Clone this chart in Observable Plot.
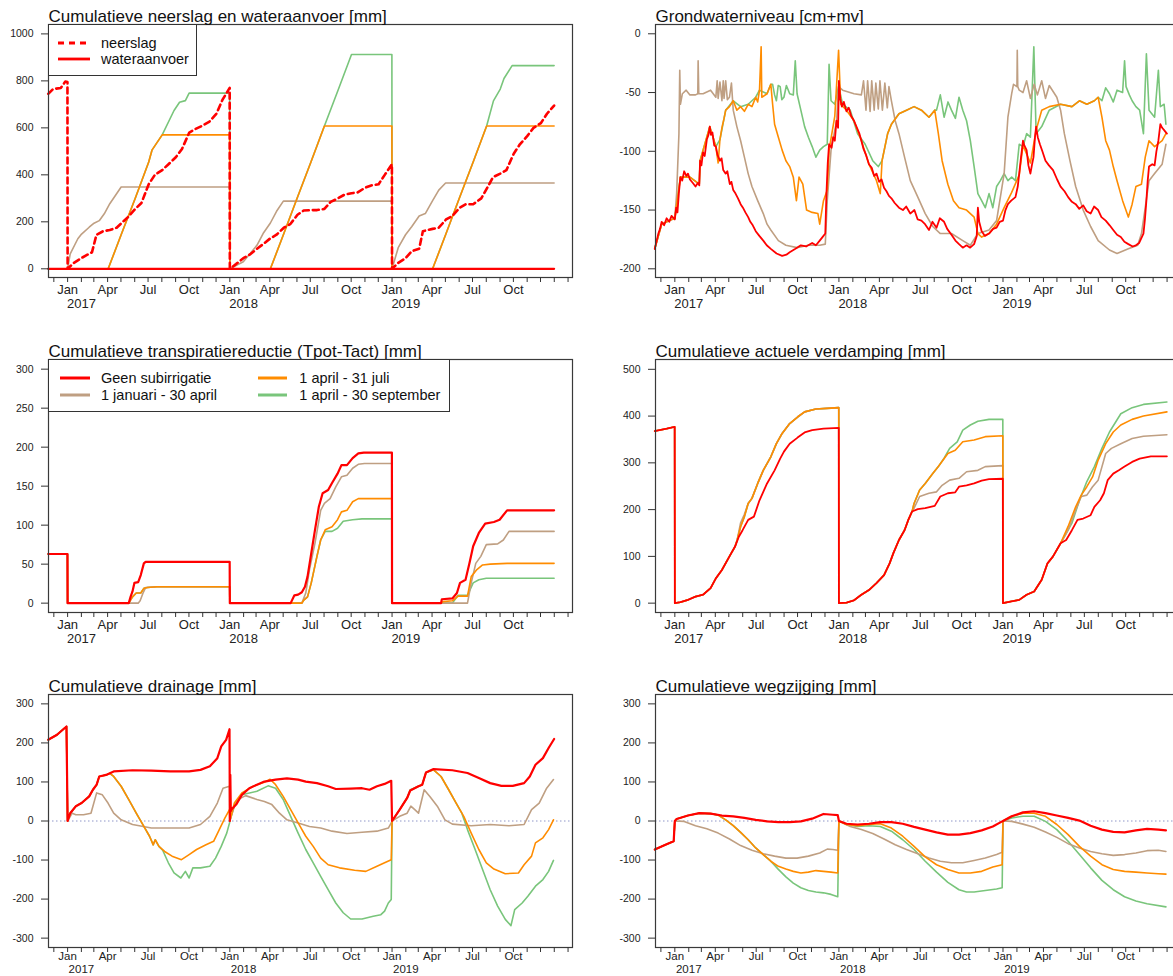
<!DOCTYPE html>
<html><head><meta charset="utf-8">
<script src="https://cdn.jsdelivr.net/npm/d3@7"></script>
<script src="https://cdn.jsdelivr.net/npm/@observablehq/plot@0.6"></script>
<style>
html,body{margin:0;padding:0;background:#fff;overflow:hidden}
#wrap{position:relative;width:1173px;height:976px;overflow:hidden;background:#fff;font-family:"Liberation Sans",Arial,sans-serif}
.panel{position:absolute}
.legend{position:absolute;box-sizing:border-box;border:1px solid #333;background:#fff}
.ltext{position:absolute;font-size:14.5px;color:#111;line-height:16px;white-space:nowrap;transform:translateY(-50%)}
.lsample{position:absolute;overflow:visible}
</style></head><body><div id="wrap"></div>
<script>
// ---------- tick labels ----------
const quarterLabels = ["Jan", "Apr", "Jul", "Oct"];
const yearLabels = ["2017", "2018", "2019"];
const legend1Labels = ["neerslag", "wateraanvoer"];
const legend3Labels = ["Geen subirrigatie", "1 januari - 30 april", "1 april - 31 juli", "1 april - 30 september"];
const titles = [
  "Cumulatieve neerslag en wateraanvoer [mm]",
  "Grondwaterniveau [cm+mv]",
  "Cumulatieve transpiratiereductie (Tpot-Tact) [mm]",
  "Cumulatieve actuele verdamping [mm]",
  "Cumulatieve drainage [mm]",
  "Cumulatieve wegzijging [mm]"
];
const yTicks1 = [0, 200, 400, 600, 800, 1000];
const yTicks2 = [0, -50, -100, -150, -200];
const yTicks3 = [0, 50, 100, 150, 200, 250, 300];
const yTicks4 = [0, 100, 200, 300, 400, 500];
const yTicks56 = [-300, -200, -100, 0, 100, 200, 300];

// ---------- data: [decimal year, value] ----------
// Panel 1: neerslag (precipitation, cumulative)
const neerslag = [[2016.881,745],[2016.91,765],[2016.958,770],[2016.986,797],[2016.999,795],
 [2017,0],[2017.038,25],[2017.083,45],[2017.122,60],[2017.15,70],[2017.178,145],[2017.219,160],[2017.26,165],[2017.302,175],[2017.333,195],[2017.372,220],[2017.417,255],[2017.455,280],[2017.5,360],[2017.538,400],[2017.583,420],[2017.622,445],[2017.667,475],[2017.705,510],[2017.75,580],[2017.788,595],[2017.833,610],[2017.872,625],[2017.917,660],[2017.955,720],[2017.999,770],
 [2018,0],[2018.038,20],[2018.083,45],[2018.122,60],[2018.167,85],[2018.205,105],[2018.25,130],[2018.288,145],[2018.333,175],[2018.372,190],[2018.417,230],[2018.455,248],[2018.5,250],[2018.538,250],[2018.583,255],[2018.622,285],[2018.667,300],[2018.705,315],[2018.75,322],[2018.788,325],[2018.833,345],[2018.872,355],[2018.917,360],[2018.955,400],[2018.999,445],
 [2019,0],[2019.038,25],[2019.083,45],[2019.122,75],[2019.167,85],[2019.19,160],[2019.25,170],[2019.288,175],[2019.333,210],[2019.372,225],[2019.417,260],[2019.455,275],[2019.5,275],[2019.55,300],[2019.595,355],[2019.622,390],[2019.667,405],[2019.705,420],[2019.75,490],[2019.788,530],[2019.833,565],[2019.872,600],[2019.917,620],[2019.955,660],[2019.999,695]];
const aanvoerRood = [[2016.881,0],[2019.999,0]];
const aanvoerTan = [[2016.881,0],[2017,0],[2017.016,64],[2017.063,128],[2017.086,148],[2017.133,177],[2017.163,194],[2017.195,205],[2017.226,234],[2017.26,277],[2017.33,348],[2017.999,348],
 [2018,0],[2018.083,30],[2018.167,100],[2018.205,150],[2018.25,195],[2018.288,245],[2018.33,288],[2018.999,288],
 [2019,0],[2019.038,90],[2019.083,145],[2019.122,180],[2019.167,225],[2019.205,235],[2019.25,290],[2019.288,335],[2019.33,365],[2019.999,365]];
const aanvoerOranje = [[2016.881,0],[2017.25,0],[2017.333,150],[2017.417,300],[2017.5,455],[2017.52,505],[2017.583,570],[2017.999,570],
 [2018,0],[2018.25,0],[2018.333,150],[2018.417,305],[2018.5,455],[2018.583,608],[2018.999,608],
 [2019,0],[2019.25,0],[2019.333,150],[2019.417,305],[2019.5,455],[2019.583,608],[2019.999,608]];
const aanvoerGroen = [[2016.881,0],[2017.25,0],[2017.333,150],[2017.417,300],[2017.5,455],[2017.52,505],[2017.583,570],[2017.656,674],[2017.69,709],[2017.726,716],[2017.749,748],[2017.999,748],
 [2018,0],[2018.25,0],[2018.333,150],[2018.417,305],[2018.5,455],[2018.583,608],[2018.667,760],[2018.75,912],[2018.999,912],
 [2019,0],[2019.25,0],[2019.333,150],[2019.417,305],[2019.5,455],[2019.583,608],[2019.625,715],[2019.667,765],[2019.69,810],[2019.74,865],[2019.999,865]];

// Panel 2: grondwaterniveau
const gwRood = [[2016.878,-183],[2016.89,-176],[2016.90,-170],[2016.91,-166],[2016.92,-160],[2016.935,-163],[2016.95,-157],[2016.966,-160],[2016.98,-155],[2017.0,-158],[2017.008,-148],[2017.016,-152],[2017.025,-135],[2017.034,-122],[2017.045,-125],[2017.057,-117],[2017.07,-121],[2017.08,-119],[2017.092,-124],[2017.11,-127],[2017.126,-130],[2017.14,-127],[2017.149,-129],[2017.154,-108],[2017.162,-112],[2017.172,-101],[2017.182,-104],[2017.195,-90],[2017.205,-86],[2017.213,-79],[2017.22,-86],[2017.229,-84],[2017.24,-95],[2017.25,-96],[2017.26,-103],[2017.275,-108],[2017.285,-106],[2017.295,-116],[2017.310,-119],[2017.32,-117],[2017.335,-128],[2017.345,-126],[2017.356,-133],[2017.37,-136],[2017.385,-140],[2017.401,-145],[2017.415,-148],[2017.43,-152],[2017.447,-156],[2017.46,-160],[2017.475,-163],[2017.493,-168],[2017.515,-172],[2017.539,-176],[2017.56,-180],[2017.585,-183],[2017.62,-187],[2017.654,-189],[2017.68,-188],[2017.700,-186],[2017.735,-183],[2017.768,-180],[2017.80,-181],[2017.837,-178],[2017.86,-180],[2017.883,-176],[2017.90,-173],[2017.917,-170],[2017.924,-136],[2017.932,-110],[2017.940,-94],[2017.955,-97],[2017.965,-88],[2017.975,-91],[2017.985,-74],[2017.995,-80],[2018.0,-40],[2018.008,-55],[2018.018,-62],[2018.03,-58],[2018.046,-66],[2018.06,-63],[2018.075,-70],[2018.092,-74],[2018.11,-80],[2018.125,-85],[2018.137,-91],[2018.15,-98],[2018.165,-103],[2018.183,-111],[2018.2,-114],[2018.215,-121],[2018.229,-119],[2018.245,-126],[2018.26,-124],[2018.275,-131],[2018.29,-134],[2018.305,-138],[2018.320,-140],[2018.34,-144],[2018.366,-148],[2018.39,-150],[2018.41,-147],[2018.435,-153],[2018.46,-150],[2018.48,-158],[2018.503,-159],[2018.525,-162],[2018.549,-167],[2018.57,-160],[2018.595,-165],[2018.615,-157],[2018.641,-160],[2018.66,-166],[2018.686,-171],[2018.71,-176],[2018.732,-179],[2018.755,-182],[2018.778,-180],[2018.80,-182],[2018.824,-179],[2018.84,-172],[2018.847,-148],[2018.855,-160],[2018.870,-168],[2018.89,-172],[2018.915,-170],[2018.94,-166],[2018.961,-165],[2018.98,-160],[2019.0,-159],[2019.015,-150],[2019.030,-145],[2019.05,-142],[2019.076,-139],[2019.09,-130],[2019.099,-119],[2019.11,-105],[2019.122,-91],[2019.13,-95],[2019.144,-99],[2019.155,-112],[2019.167,-119],[2019.176,-112],[2019.186,-105],[2019.195,-88],[2019.202,-79],[2019.212,-88],[2019.225,-94],[2019.24,-100],[2019.259,-108],[2019.28,-112],[2019.305,-116],[2019.33,-124],[2019.351,-130],[2019.375,-134],[2019.397,-139],[2019.42,-143],[2019.443,-145],[2019.465,-149],[2019.489,-146],[2019.51,-151],[2019.534,-153],[2019.555,-147],[2019.580,-150],[2019.60,-156],[2019.626,-159],[2019.65,-163],[2019.672,-167],[2019.695,-171],[2019.718,-173],[2019.74,-177],[2019.764,-179],[2019.79,-181],[2019.810,-180],[2019.83,-178],[2019.856,-170],[2019.865,-158],[2019.874,-142],[2019.882,-125],[2019.890,-113],[2019.91,-111],[2019.924,-112],[2019.935,-100],[2019.947,-91],[2019.959,-77],[2019.97,-80],[2019.982,-82],[2019.999,-85]];
const gwTan = [[2016.878,-183],[2016.92,-162],[2016.966,-159],[2017.0,-157],[2017.011,-136],[2017.025,-85],[2017.030,-31],[2017.034,-60],[2017.046,-51],[2017.069,-48],[2017.092,-52],[2017.126,-52],[2017.14,-51],[2017.142,-23],[2017.146,-51],[2017.172,-51],[2017.218,-48],[2017.25,-54],[2017.258,-40],[2017.264,-55],[2017.275,-41],[2017.287,-57],[2017.295,-40],[2017.30,-55],[2017.31,-40],[2017.32,-56],[2017.333,-54],[2017.345,-42],[2017.356,-65],[2017.378,-79],[2017.401,-91],[2017.424,-105],[2017.447,-119],[2017.470,-130],[2017.505,-142],[2017.539,-153],[2017.562,-162],[2017.585,-167],[2017.631,-176],[2017.677,-180],[2017.745,-182],[2017.814,-180],[2017.883,-180],[2017.917,-179],[2017.929,-142],[2017.952,-99],[2017.986,-74],[2017.998,-45],[2018.023,-48],[2018.092,-51],[2018.137,-52],[2018.150,-40],[2018.165,-65],[2018.175,-40],[2018.19,-66],[2018.2,-40],[2018.215,-65],[2018.225,-42],[2018.24,-64],[2018.25,-40],[2018.265,-65],[2018.28,-42],[2018.295,-63],[2018.305,-45],[2018.32,-57],[2018.343,-74],[2018.366,-85],[2018.400,-105],[2018.435,-125],[2018.481,-139],[2018.526,-153],[2018.572,-164],[2018.618,-170],[2018.686,-170],[2018.755,-176],[2018.801,-180],[2018.847,-170],[2018.915,-167],[2018.961,-159],[2019.007,-119],[2019.030,-71],[2019.053,-51],[2019.064,-43],[2019.085,-45],[2019.087,-14],[2019.090,-45],[2019.099,-48],[2019.122,-50],[2019.144,-40],[2019.167,-55],[2019.19,-43],[2019.21,-52],[2019.236,-40],[2019.259,-55],[2019.282,-44],[2019.328,-54],[2019.351,-65],[2019.374,-85],[2019.408,-108],[2019.443,-130],[2019.489,-150],[2019.534,-164],[2019.580,-176],[2019.649,-184],[2019.695,-187],[2019.764,-183],[2019.821,-180],[2019.844,-170],[2019.867,-148],[2019.890,-125],[2019.924,-119],[2019.970,-111],[2019.993,-94]];
const gwOranje = [[2016.878,-183],[2016.92,-162],[2016.966,-159],[2017.0,-157],[2017.034,-122],[2017.092,-122],[2017.149,-128],[2017.154,-108],[2017.213,-79],[2017.25,-96],[2017.264,-110],[2017.275,-90],[2017.287,-80],[2017.30,-72],[2017.31,-65],[2017.333,-62],[2017.356,-57],[2017.378,-65],[2017.401,-62],[2017.424,-66],[2017.447,-60],[2017.47,-62],[2017.493,-54],[2017.505,-58],[2017.516,-48],[2017.526,-11],[2017.530,-54],[2017.562,-51],[2017.585,-43],[2017.596,-60],[2017.608,-77],[2017.631,-88],[2017.654,-99],[2017.677,-108],[2017.700,-113],[2017.722,-122],[2017.741,-142],[2017.757,-122],[2017.780,-128],[2017.803,-150],[2017.837,-152],[2017.872,-153],[2017.883,-162],[2017.906,-142],[2017.929,-133],[2017.940,-99],[2017.975,-70],[2017.998,-14],[2018.011,-60],[2018.046,-65],[2018.092,-74],[2018.137,-91],[2018.183,-111],[2018.229,-125],[2018.252,-136],[2018.263,-108],[2018.297,-85],[2018.320,-77],[2018.366,-68],[2018.412,-65],[2018.458,-62],[2018.503,-65],[2018.549,-71],[2018.584,-65],[2018.606,-85],[2018.629,-108],[2018.664,-128],[2018.698,-142],[2018.732,-148],[2018.778,-150],[2018.824,-156],[2018.847,-170],[2018.870,-173],[2018.915,-170],[2018.961,-162],[2019.007,-148],[2019.053,-135],[2019.099,-120],[2019.122,-95],[2019.167,-110],[2019.202,-82],[2019.236,-65],[2019.282,-62],[2019.351,-60],[2019.420,-62],[2019.466,-57],[2019.511,-60],[2019.557,-57],[2019.580,-54],[2019.603,-71],[2019.626,-91],[2019.649,-99],[2019.672,-113],[2019.695,-125],[2019.729,-142],[2019.764,-156],[2019.787,-145],[2019.810,-130],[2019.844,-128],[2019.867,-105],[2019.890,-91],[2019.924,-96],[2019.970,-91],[2019.993,-85]];
const gwGroen = [[2016.878,-183],[2016.92,-162],[2016.966,-159],[2017.0,-157],[2017.034,-122],[2017.092,-122],[2017.149,-128],[2017.154,-108],[2017.213,-79],[2017.25,-96],[2017.275,-90],[2017.31,-65],[2017.356,-57],[2017.401,-62],[2017.447,-60],[2017.493,-54],[2017.516,-48],[2017.562,-51],[2017.585,-43],[2017.596,-43],[2017.608,-52],[2017.619,-57],[2017.63,-44],[2017.642,-45],[2017.652,-56],[2017.665,-54],[2017.68,-44],[2017.700,-51],[2017.722,-52],[2017.734,-23],[2017.745,-51],[2017.768,-65],[2017.791,-79],[2017.814,-88],[2017.837,-96],[2017.860,-105],[2017.883,-99],[2017.906,-96],[2017.929,-94],[2017.940,-26],[2017.952,-57],[2017.975,-60],[2017.998,-45],[2018.023,-60],[2018.069,-65],[2018.114,-85],[2018.160,-94],[2018.206,-108],[2018.240,-113],[2018.263,-108],[2018.297,-85],[2018.320,-77],[2018.366,-68],[2018.412,-65],[2018.458,-62],[2018.503,-65],[2018.549,-71],[2018.584,-65],[2018.595,-65],[2018.618,-52],[2018.641,-71],[2018.665,-58],[2018.686,-65],[2018.71,-72],[2018.732,-54],[2018.755,-65],[2018.778,-74],[2018.801,-91],[2018.824,-113],[2018.847,-136],[2018.870,-142],[2018.892,-148],[2018.915,-136],[2018.938,-148],[2018.961,-130],[2018.984,-125],[2019.007,-119],[2019.030,-125],[2019.053,-122],[2019.076,-125],[2019.099,-94],[2019.122,-96],[2019.144,-85],[2019.167,-88],[2019.188,-11],[2019.202,-85],[2019.236,-79],[2019.282,-65],[2019.351,-60],[2019.420,-62],[2019.466,-57],[2019.511,-60],[2019.557,-57],[2019.580,-54],[2019.603,-57],[2019.626,-46],[2019.649,-51],[2019.672,-58],[2019.695,-48],[2019.729,-50],[2019.741,-23],[2019.750,-45],[2019.770,-52],[2019.787,-57],[2019.81,-62],[2019.833,-65],[2019.856,-85],[2019.874,-17],[2019.890,-65],[2019.924,-71],[2019.947,-31],[2019.959,-62],[2019.982,-60],[2019.993,-77]];

// Panel 3: transpiratiereductie
const trRood = [[2016.881,63],[2016.999,63],[2017,0],[2017.377,0],[2017.388,8],[2017.40,15],[2017.412,26],[2017.435,27],[2017.451,36],[2017.47,51],[2017.481,53],[2017.999,53],
 [2018,0],[2018.375,0],[2018.398,10],[2018.421,11],[2018.444,14],[2018.463,21],[2018.479,34],[2018.502,64],[2018.525,94],[2018.549,124],[2018.572,141],[2018.606,145],[2018.63,154],[2018.664,166],[2018.688,177],[2018.722,177],[2018.757,186],[2018.792,192],[2018.826,193],[2018.999,193],
 [2019,0],[2019.302,0],[2019.307,5],[2019.372,6],[2019.40,13],[2019.419,26],[2019.453,30],[2019.477,51],[2019.5,73],[2019.535,90],[2019.574,102],[2019.628,104],[2019.663,107],[2019.709,119],[2019.999,119]];
const trTan = [[2016.881,63],[2016.999,63],[2017,0],[2017.435,0],[2017.447,3],[2017.465,13],[2017.481,20],[2017.55,21],[2017.999,21],
 [2018,0],[2018.444,0],[2018.468,13],[2018.491,43],[2018.525,77],[2018.56,119],[2018.583,128],[2018.618,134],[2018.653,149],[2018.688,162],[2018.722,164],[2018.757,173],[2018.792,178],[2018.83,179],[2018.999,179],
 [2019,0],[2019.465,0],[2019.488,26],[2019.516,51],[2019.547,60],[2019.581,75],[2019.651,76],[2019.686,81],[2019.721,92],[2019.999,92]];
const trOranje = [[2016.881,63],[2016.999,63],[2017,0],[2017.377,0],[2017.40,8],[2017.423,13],[2017.451,13],[2017.47,19],[2017.493,20],[2017.55,21],[2017.999,21],
 [2018,0],[2018.444,0],[2018.456,4],[2018.479,8],[2018.502,26],[2018.537,60],[2018.56,81],[2018.588,94],[2018.63,98],[2018.664,107],[2018.688,117],[2018.722,119],[2018.757,130],[2018.792,134],[2018.999,134],
 [2019,0],[2019.302,0],[2019.314,2],[2019.372,3],[2019.407,9],[2019.465,9],[2019.488,34],[2019.523,43],[2019.558,49],[2019.605,50],[2019.709,51],[2019.999,51]];
const trGroen = [[2016.881,63],[2016.999,63],[2017,0],[2017.377,0],[2017.40,8],[2017.423,13],[2017.451,13],[2017.47,19],[2017.493,20],[2017.55,21],[2017.999,21],
 [2018,0],[2018.444,0],[2018.456,4],[2018.479,8],[2018.502,26],[2018.537,60],[2018.56,81],[2018.588,92],[2018.63,92],[2018.664,96],[2018.699,105],[2018.757,107],[2018.815,108],[2018.999,108],
 [2019,0],[2019.372,0],[2019.407,10],[2019.465,10],[2019.50,26],[2019.535,30],[2019.581,32],[2019.999,32]];

// Panel 4: actuele verdamping
const evRood = [[2016.878,368],[2016.95,373],[2016.999,377],[2017,0],[2017.034,2],[2017.080,7],[2017.126,14],[2017.172,18],[2017.218,32],[2017.25,53],[2017.287,71],[2017.333,100],[2017.367,121],[2017.390,142],[2017.413,156],[2017.447,178],[2017.482,185],[2017.516,220],[2017.562,256],[2017.608,284],[2017.642,309],[2017.665,324],[2017.700,341],[2017.748,354],[2017.791,365],[2017.837,370],[2017.906,373],[2017.999,375],
 [2018,0],[2018.046,1],[2018.092,6],[2018.137,18],[2018.183,28],[2018.229,43],[2018.275,60],[2018.309,85],[2018.332,107],[2018.366,135],[2018.400,156],[2018.423,178],[2018.446,196],[2018.481,201],[2018.526,203],[2018.584,208],[2018.618,228],[2018.664,235],[2018.709,237],[2018.732,249],[2018.778,252],[2018.824,256],[2018.870,262],[2018.915,265],[2018.999,266],
 [2019,0],[2019.053,4],[2019.099,7],[2019.144,18],[2019.190,25],[2019.236,50],[2019.271,85],[2019.305,100],[2019.351,128],[2019.385,135],[2019.420,156],[2019.454,178],[2019.489,181],[2019.534,188],[2019.557,206],[2019.592,220],[2019.615,235],[2019.638,263],[2019.672,277],[2019.706,284],[2019.741,292],[2019.787,302],[2019.833,309],[2019.901,314],[2019.999,314]];
const evOranje = [[2016.878,368],[2016.95,373],[2016.999,377],[2017,0],[2017.034,2],[2017.080,7],[2017.126,14],[2017.172,18],[2017.218,32],[2017.25,53],[2017.287,71],[2017.333,100],[2017.367,121],[2017.38,135],[2017.401,164],[2017.424,185],[2017.447,213],[2017.470,224],[2017.505,256],[2017.539,284],[2017.585,313],[2017.619,341],[2017.654,363],[2017.700,384],[2017.748,398],[2017.791,409],[2017.860,415],[2017.952,417],[2017.999,418],
 [2018,0],[2018.046,1],[2018.092,6],[2018.137,18],[2018.183,28],[2018.229,43],[2018.275,60],[2018.309,85],[2018.332,107],[2018.366,135],[2018.400,156],[2018.423,178],[2018.446,196],[2018.458,213],[2018.492,242],[2018.526,256],[2018.572,277],[2018.606,292],[2018.664,320],[2018.709,327],[2018.755,345],[2018.824,349],[2018.892,356],[2018.999,358],
 [2019,0],[2019.053,4],[2019.099,7],[2019.144,18],[2019.190,25],[2019.236,50],[2019.271,85],[2019.305,100],[2019.351,128],[2019.397,164],[2019.443,206],[2019.477,231],[2019.511,249],[2019.546,270],[2019.580,306],[2019.626,341],[2019.672,366],[2019.718,381],[2019.787,393],[2019.856,400],[2019.999,409]];
const evTan = [[2016.878,368],[2016.95,373],[2016.999,377],[2017,0],[2017.034,2],[2017.080,7],[2017.126,14],[2017.172,18],[2017.218,32],[2017.25,53],[2017.287,71],[2017.333,100],[2017.367,121],[2017.38,135],[2017.401,172],[2017.424,190],[2017.447,213],[2017.470,224],[2017.505,256],[2017.539,284],[2017.585,313],[2017.619,341],[2017.654,363],[2017.700,384],[2017.748,398],[2017.791,409],[2017.860,415],[2017.952,417],[2017.999,418],
 [2018,0],[2018.046,1],[2018.092,6],[2018.137,18],[2018.183,28],[2018.229,43],[2018.275,60],[2018.309,85],[2018.332,107],[2018.366,135],[2018.400,156],[2018.423,178],[2018.446,196],[2018.458,203],[2018.492,228],[2018.549,235],[2018.595,238],[2018.629,252],[2018.675,263],[2018.732,267],[2018.778,281],[2018.847,284],[2018.892,292],[2018.999,294],
 [2019,0],[2019.053,4],[2019.099,7],[2019.144,18],[2019.190,25],[2019.236,50],[2019.271,85],[2019.305,100],[2019.351,128],[2019.397,156],[2019.443,199],[2019.477,228],[2019.511,231],[2019.546,249],[2019.580,263],[2019.626,320],[2019.661,331],[2019.718,341],[2019.787,352],[2019.856,357],[2019.999,360]];
const evGroen = [[2016.878,368],[2016.95,373],[2016.999,377],[2017,0],[2017.034,2],[2017.080,7],[2017.126,14],[2017.172,18],[2017.218,32],[2017.25,53],[2017.287,71],[2017.333,100],[2017.367,121],[2017.38,135],[2017.401,164],[2017.424,185],[2017.447,213],[2017.470,224],[2017.505,256],[2017.539,284],[2017.585,313],[2017.619,341],[2017.654,363],[2017.700,384],[2017.748,398],[2017.791,409],[2017.860,415],[2017.952,417],[2017.999,418],
 [2018,0],[2018.046,1],[2018.092,6],[2018.137,18],[2018.183,28],[2018.229,43],[2018.275,60],[2018.309,85],[2018.332,107],[2018.366,135],[2018.400,156],[2018.423,178],[2018.446,196],[2018.458,213],[2018.492,242],[2018.526,256],[2018.572,277],[2018.606,292],[2018.641,310],[2018.675,331],[2018.721,345],[2018.755,370],[2018.801,381],[2018.847,389],[2018.915,393],[2018.999,393],
 [2019,0],[2019.053,4],[2019.099,7],[2019.144,18],[2019.190,25],[2019.236,50],[2019.271,85],[2019.305,100],[2019.351,128],[2019.420,171],[2019.466,220],[2019.511,260],[2019.557,292],[2019.603,331],[2019.649,366],[2019.718,405],[2019.787,418],[2019.856,425],[2019.999,430]];

// Panel 5: drainage
const drRood = [[2016.881,208],[2016.935,221],[2016.993,242],[2017,0],[2017.016,20],[2017.051,38],[2017.086,46],[2017.133,63],[2017.156,80],[2017.179,93],[2017.195,114],[2017.237,118],[2017.284,127],[2017.40,130],[2017.516,129],[2017.633,127],[2017.749,127],[2017.819,131],[2017.877,140],[2017.923,161],[2017.947,191],[2017.977,208],[2017.998,235],
 [2018,0],[2018.003,118],[2018.006,25],[2018.009,29],[2018.039,42],[2018.074,67],[2018.120,84],[2018.167,93],[2018.213,101],[2018.282,106],[2018.352,109],[2018.421,106],[2018.468,101],[2018.537,97],[2018.606,89],[2018.653,82],[2018.745,83],[2018.815,84],[2018.861,80],[2018.907,89],[2018.954,95],[2018.995,103],
 [2019,0],[2019.047,29],[2019.093,59],[2019.112,78],[2019.163,89],[2019.186,93],[2019.209,124],[2019.256,133],[2019.372,130],[2019.465,123],[2019.535,110],[2019.605,97],[2019.674,90],[2019.744,90],[2019.814,97],[2019.849,114],[2019.884,144],[2019.930,161],[2019.965,187],[2019.999,210]];
const drTan = [[2016.881,208],[2016.935,221],[2016.993,242],[2017,0],[2017.028,20],[2017.051,16],[2017.098,16],[2017.144,20],[2017.179,72],[2017.214,67],[2017.249,46],[2017.284,20],[2017.33,3],[2017.40,-9],[2017.516,-18],[2017.633,-18],[2017.749,-18],[2017.819,-9],[2017.877,12],[2017.923,46],[2017.958,84],[2017.998,89],
 [2018,0],[2018.028,38],[2018.051,55],[2018.097,65],[2018.167,55],[2018.213,50],[2018.259,42],[2018.306,20],[2018.352,3],[2018.421,-5],[2018.491,-14],[2018.56,-18],[2018.63,-26],[2018.722,-32],[2018.815,-29],[2018.907,-26],[2018.977,-18],[2018.995,-5],
 [2019,0],[2019.047,12],[2019.093,20],[2019.116,38],[2019.140,29],[2019.163,20],[2019.198,80],[2019.233,63],[2019.279,38],[2019.326,3],[2019.372,-8],[2019.488,-12],[2019.605,-9],[2019.721,-12],[2019.814,-9],[2019.860,29],[2019.907,46],[2019.953,84],[2019.995,106]];
const drOranje = [[2016.881,208],[2016.935,221],[2016.993,242],[2017,0],[2017.016,20],[2017.051,38],[2017.086,46],[2017.133,63],[2017.156,80],[2017.179,93],[2017.195,114],[2017.237,118],[2017.26,122],[2017.284,114],[2017.33,89],[2017.377,55],[2017.423,20],[2017.47,-14],[2017.505,-39],[2017.528,-61],[2017.54,-48],[2017.563,-65],[2017.598,-78],[2017.644,-90],[2017.702,-99],[2017.749,-86],[2017.795,-73],[2017.853,-61],[2017.90,-52],[2017.935,-22],[2017.970,8],[2017.998,29],
 [2018,0],[2018.028,46],[2018.074,72],[2018.144,89],[2018.213,99],[2018.248,107],[2018.282,93],[2018.329,63],[2018.375,29],[2018.421,-5],[2018.468,-39],[2018.514,-65],[2018.56,-95],[2018.606,-112],[2018.676,-120],[2018.769,-126],[2018.838,-129],[2018.907,-116],[2018.954,-107],[2018.995,-99],
 [2019,0],[2019.047,29],[2019.093,59],[2019.112,78],[2019.163,89],[2019.186,93],[2019.209,124],[2019.256,131],[2019.302,114],[2019.349,80],[2019.395,46],[2019.442,12],[2019.488,-31],[2019.535,-73],[2019.581,-107],[2019.628,-123],[2019.698,-135],[2019.779,-133],[2019.814,-112],[2019.86,-90],[2019.884,-56],[2019.930,-43],[2019.965,-22],[2019.995,3]];
const drGroen = [[2016.881,208],[2016.935,221],[2016.993,242],[2017,0],[2017.016,20],[2017.051,38],[2017.086,46],[2017.133,63],[2017.156,80],[2017.179,93],[2017.195,114],[2017.237,118],[2017.26,122],[2017.284,114],[2017.33,89],[2017.377,55],[2017.423,20],[2017.47,-14],[2017.505,-39],[2017.528,-61],[2017.54,-48],[2017.563,-65],[2017.586,-75],[2017.621,-107],[2017.656,-133],[2017.698,-146],[2017.726,-129],[2017.749,-146],[2017.772,-120],[2017.819,-120],[2017.877,-116],[2017.912,-95],[2017.947,-65],[2017.981,-31],[2017.998,-5],
 [2018,0],[2018.028,40],[2018.074,67],[2018.167,76],[2018.236,90],[2018.282,84],[2018.329,55],[2018.375,12],[2018.421,-31],[2018.468,-73],[2018.514,-107],[2018.56,-142],[2018.606,-176],[2018.653,-210],[2018.699,-235],[2018.745,-251],[2018.815,-251],[2018.884,-244],[2018.931,-240],[2018.954,-231],[2018.977,-210],[2018.995,-201],
 [2019,0],[2019.047,29],[2019.093,59],[2019.112,80],[2019.163,89],[2019.186,93],[2019.209,124],[2019.256,131],[2019.302,114],[2019.349,80],[2019.395,46],[2019.43,20],[2019.465,-22],[2019.512,-73],[2019.558,-124],[2019.605,-176],[2019.651,-218],[2019.698,-252],[2019.733,-268],[2019.756,-227],[2019.802,-210],[2019.837,-193],[2019.884,-167],[2019.930,-150],[2019.965,-129],[2019.995,-101]];

// Panel 6: wegzijging
const wzRood = [[2016.878,-73],[2016.943,-61],[2016.993,-52],[2017,0],[2017.011,5],[2017.080,14],[2017.149,20],[2017.218,19],[2017.287,14],[2017.356,12],[2017.424,8],[2017.493,3],[2017.562,-1],[2017.631,-3],[2017.700,-3],[2017.768,-1],[2017.837,6],[2017.906,18],[2017.963,16],[2017.993,15],
 [2018,0],[2018.046,-7],[2018.114,-9],[2018.183,-7],[2018.252,-3],[2018.320,-3],[2018.389,-7],[2018.458,-15],[2018.526,-22],[2018.595,-29],[2018.664,-35],[2018.732,-35],[2018.801,-31],[2018.870,-24],[2018.938,-14],[2018.995,-1],
 [2019,0],[2019.053,12],[2019.122,22],[2019.190,25],[2019.259,20],[2019.328,14],[2019.397,8],[2019.466,1],[2019.534,-12],[2019.603,-22],[2019.672,-28],[2019.741,-29],[2019.810,-24],[2019.878,-20],[2019.947,-22],[2019.993,-24]];
const wzTan = [[2016.878,-73],[2016.943,-61],[2016.993,-52],[2017,0],[2017.057,-1],[2017.126,-12],[2017.195,-20],[2017.264,-31],[2017.333,-46],[2017.401,-63],[2017.470,-75],[2017.539,-84],[2017.608,-90],[2017.677,-95],[2017.745,-95],[2017.814,-90],[2017.883,-82],[2017.929,-72],[2017.963,-73],[2017.993,-75],
 [2018,0],[2018.069,-14],[2018.137,-22],[2018.206,-32],[2018.275,-46],[2018.343,-61],[2018.412,-73],[2018.481,-84],[2018.549,-95],[2018.618,-103],[2018.686,-107],[2018.755,-107],[2018.824,-101],[2018.892,-95],[2018.961,-86],[2018.995,-80],
 [2019,0],[2019.053,-1],[2019.122,-8],[2019.190,-16],[2019.259,-28],[2019.328,-42],[2019.397,-58],[2019.466,-69],[2019.534,-78],[2019.603,-84],[2019.672,-88],[2019.741,-86],[2019.810,-82],[2019.878,-76],[2019.947,-75],[2019.993,-78]];
const wzOranje = [[2016.878,-73],[2016.943,-61],[2016.993,-52],[2017,0],[2017.011,5],[2017.080,14],[2017.149,20],[2017.218,19],[2017.264,15],[2017.310,3],[2017.356,-12],[2017.401,-29],[2017.447,-48],[2017.493,-69],[2017.539,-86],[2017.585,-103],[2017.631,-116],[2017.677,-123],[2017.722,-129],[2017.768,-133],[2017.814,-131],[2017.860,-127],[2017.906,-129],[2017.952,-131],[2017.993,-133],
 [2018,0],[2018.046,-9],[2018.114,-12],[2018.183,-9],[2018.252,-7],[2018.320,-18],[2018.389,-39],[2018.458,-65],[2018.526,-92],[2018.595,-112],[2018.664,-124],[2018.732,-133],[2018.801,-133],[2018.870,-129],[2018.938,-118],[2018.995,-112],
 [2019,0],[2019.053,12],[2019.122,20],[2019.190,20],[2019.259,12],[2019.328,-9],[2019.397,-35],[2019.466,-65],[2019.534,-90],[2019.603,-112],[2019.672,-124],[2019.741,-129],[2019.810,-131],[2019.878,-133],[2019.947,-135],[2019.993,-136]];
const wzGroen = [[2016.878,-73],[2016.943,-61],[2016.993,-52],[2017,0],[2017.011,5],[2017.080,14],[2017.149,20],[2017.218,19],[2017.264,15],[2017.310,3],[2017.356,-12],[2017.401,-29],[2017.447,-48],[2017.493,-69],[2017.539,-86],[2017.585,-103],[2017.631,-124],[2017.677,-143],[2017.722,-159],[2017.768,-171],[2017.814,-178],[2017.860,-182],[2017.906,-184],[2017.952,-188],[2017.993,-194],
 [2018,0],[2018.046,-9],[2018.114,-14],[2018.183,-12],[2018.252,-14],[2018.320,-26],[2018.389,-48],[2018.458,-73],[2018.526,-103],[2018.595,-131],[2018.664,-157],[2018.732,-176],[2018.778,-182],[2018.824,-182],[2018.892,-178],[2018.961,-174],[2018.995,-171],
 [2019,0],[2019.053,8],[2019.122,12],[2019.190,12],[2019.259,-1],[2019.328,-22],[2019.397,-52],[2019.466,-86],[2019.534,-120],[2019.603,-152],[2019.672,-176],[2019.741,-194],[2019.810,-205],[2019.878,-212],[2019.993,-220]];

// ---------- styling ----------
const C = {rood: "#ff0000", tan: "#bf9f82", oranje: "#ff8c00", groen: "#79c57b"};
const FONT = "'Liberation Sans', Arial, sans-serif";
const X_DOMAIN = [new Date(Date.UTC(2016, 10, 19)), new Date(Date.UTC(2020, 1, 11))];
const monthTicks = d3.utcMonth.range(new Date(Date.UTC(2016, 11, 1)), new Date(Date.UTC(2020, 1, 2)));
const quarterTicks = d3.utcMonth.every(3).range(new Date(Date.UTC(2017, 0, 1)), new Date(Date.UTC(2019, 9, 2)));
const yearTicks = yearLabels.map(y => new Date(Date.UTC(+y, 1, 1)));

function toDate(t) {
  const y = Math.floor(t);
  const a = Date.UTC(y, 0, 1), b = Date.UTC(y + 1, 0, 1);
  return new Date(a + (t - y) * (b - a));
}
function ln(data, color, w) {
  return Plot.line(data, {x: d => toDate(d[0]), y: d => d[1], stroke: color, strokeWidth: w, strokeLinejoin: "round"});
}
const wrap = document.getElementById("wrap");

function panel(opts) {
  const {left, top, marginLeft, frameW, width, yDomain, yTicks, title, marks,
         yearDy = 21, xFont = 13, xPad = 7} = opts;
  const svg = Plot.plot({
    width, height: 335,
    marginTop: 24, marginBottom: 58, marginLeft, marginRight: width - marginLeft - frameW,
    x: {type: "utc", domain: X_DOMAIN},
    y: {domain: yDomain},
    style: {fontFamily: FONT, fontSize: "10.5px", color: "#222", background: "transparent", overflow: "visible", maxWidth: "none"},
    marks: [
      ...marks,
      Plot.frame({stroke: "#3a3a3a", strokeWidth: 1.2}),
      Plot.axisY(yTicks, {tickSize: 7, tickPadding: 8, fontSize: 10.5, label: null, stroke: "#333", tickFormat: d => String(d)}),
      Plot.axisX(monthTicks, {tickSize: 5, tickFormat: () => "", label: null, stroke: "#333"}),
      Plot.axisX(quarterTicks, {tickSize: 0, tickPadding: xPad, fontSize: xFont, label: null, tickFormat: d => quarterLabels[d.getUTCMonth() / 3]}),
      Plot.text(yearTicks, {x: d => d, text: (d, i) => yearLabels[i], frameAnchor: "bottom", dy: yearDy, lineAnchor: "top", fontSize: xFont, fill: "#222"}),
      Plot.text([title], {text: d => d, frameAnchor: "top-left", textAnchor: "start", lineAnchor: "bottom", dy: -3, fontSize: 17, fill: "#111"})
    ]
  });
  const div = document.createElement("div");
  div.className = "panel";
  div.style.left = left + "px";
  div.style.top = top + "px";
  div.style.width = width + "px";
  div.appendChild(svg);
  wrap.appendChild(div);
}

const L = {left: 0, marginLeft: 48, frameW: 524, width: 590};
const R = {left: 590, marginLeft: 65, frameW: 530, width: 615};
const rowTop = [0, 335, 670];
const bottomRow = {yearDy: 17.3, xFont: 11.5, xPad: 4};

panel({...L, top: rowTop[0], yDomain: [-37, 1040], yTicks: yTicks1, title: titles[0], marks: [
  ln(aanvoerGroen, C.groen, 1.6), ln(aanvoerTan, C.tan, 1.6), ln(aanvoerOranje, C.oranje, 1.6), ln(aanvoerRood, C.rood, 2.2),
  Plot.line(neerslag, {x: d => toDate(d[0]), y: d => d[1], stroke: C.rood, strokeWidth: 2.6, strokeDasharray: "6 4"})
]});
panel({...R, top: rowTop[0], yDomain: [-207.4, 7.9], yTicks: yTicks2, title: titles[1], marks: [
  ln(gwGroen, C.groen, 1.6), ln(gwTan, C.tan, 1.6), ln(gwOranje, C.oranje, 1.6), ln(gwRood, C.rood, 1.8)
]});
panel({...L, top: rowTop[1], yDomain: [-12, 312.4], yTicks: yTicks3, title: titles[2], marks: [
  ln(trGroen, C.groen, 1.6), ln(trTan, C.tan, 1.6), ln(trOranje, C.oranje, 1.6), ln(trRood, C.rood, 2.2)
]});
panel({...R, top: rowTop[1], yDomain: [-20, 521], yTicks: yTicks4, title: titles[3], marks: [
  ln(evGroen, C.groen, 1.6), ln(evTan, C.tan, 1.6), ln(evOranje, C.oranje, 1.6), ln(evRood, C.rood, 1.8)
]});
panel({...L, ...bottomRow, top: rowTop[2], yDomain: [-324, 324], yTicks: yTicks56, title: titles[4], marks: [
  Plot.ruleY([0], {stroke: "#8f96c8", strokeDasharray: "1.5 2.5", strokeWidth: 1}),
  ln(drGroen, C.groen, 1.6), ln(drTan, C.tan, 1.6), ln(drOranje, C.oranje, 1.6), ln(drRood, C.rood, 2.2)
]});
panel({...R, ...bottomRow, top: rowTop[2], yDomain: [-324, 324], yTicks: yTicks56, title: titles[5], marks: [
  Plot.ruleY([0], {stroke: "#8f96c8", strokeDasharray: "1.5 2.5", strokeWidth: 1}),
  ln(wzGroen, C.groen, 1.6), ln(wzTan, C.tan, 1.6), ln(wzOranje, C.oranje, 1.6), ln(wzRood, C.rood, 2.2)
]});

// ---------- legends ----------
function box(x, y, w, h) {
  const d = document.createElement("div");
  d.className = "legend";
  Object.assign(d.style, {left: x + "px", top: y + "px", width: w + "px", height: h + "px"});
  wrap.appendChild(d);
}
function sample(x1, x2, y, color, w, dash) {
  const s = document.createElementNS("http://www.w3.org/2000/svg", "svg");
  s.setAttribute("class", "lsample");
  s.setAttribute("width", x2 - x1);
  s.setAttribute("height", 8);
  s.style.left = x1 + "px";
  s.style.top = (y - 4) + "px";
  s.innerHTML = `<line x1="0" y1="4" x2="${x2 - x1}" y2="4" stroke="${color}" stroke-width="${w}"${dash ? ` stroke-dasharray="${dash}"` : ""}/>`;
  wrap.appendChild(s);
}
function label(x, y, t) {
  const d = document.createElement("div");
  d.className = "ltext";
  d.textContent = t;
  Object.assign(d.style, {left: x + "px", top: y + "px"});
  wrap.appendChild(d);
}
box(48, 24, 149, 52);
sample(58, 90, 42.7, C.rood, 2.8, "6 5"); label(101, 42.7, legend1Labels[0]);
sample(58, 90, 59.3, C.rood, 2.8, null); label(101, 59.3, legend1Labels[1]);

box(48, 359, 401.5, 53);
sample(60, 90, 377.7, C.rood, 3, null); label(101, 377.7, legend3Labels[0]);
sample(60, 90, 395, C.tan, 3, null); label(101, 395, legend3Labels[1]);
sample(258, 287, 377.7, C.oranje, 3, null); label(299.3, 377.7, legend3Labels[2]);
sample(258, 287, 395, C.groen, 3, null); label(299.3, 395, legend3Labels[3]);
</script></body></html>
